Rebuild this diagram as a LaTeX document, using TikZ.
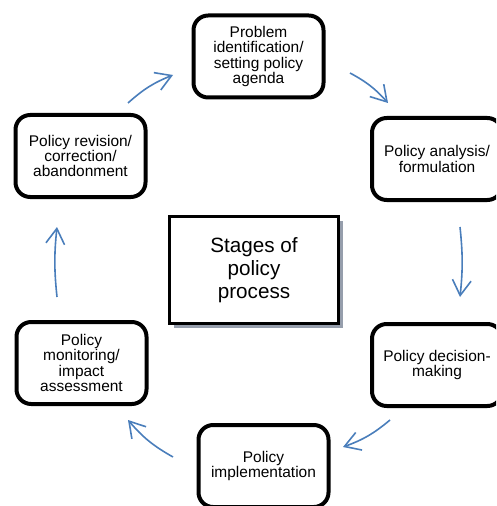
\documentclass[tikz,border=0pt]{standalone}
\usepackage{fontspec}
\setmainfont{Liberation Sans}
\usetikzlibrary{arrows.meta, shadows}

\definecolor{arrowblue}{RGB}{74,126,187}
\definecolor{shadowgray}{RGB}{150,158,172}

\begin{document}
\begin{tikzpicture}[
    x=0.75pt, y=-0.75pt,
    stage/.style={rectangle, draw, line width=3pt, rounded corners=11pt, minimum width=97.5pt, minimum height=61.5pt, align=center, inner sep=2pt, font=\fontsize{11.6}{11.6}\selectfont},
    title/.style={rectangle, draw, line width=2.5pt, fill=white, minimum width=126.75pt, minimum height=80.25pt, align=center, font=\fontsize{15.5}{17.5}\selectfont, drop shadow={shadow xshift=3pt, shadow yshift=-3pt, fill=shadowgray, opacity=1}},
    arrow/.style={-{Straight Barb[length=11.5pt, width=14pt]}, arrowblue, line width=1.2pt}
]
\useasboundingbox (0,0) rectangle (496,506);
\clip (0,0) rectangle (496,506);

% Stages
\node[stage] (problem) at (258.5,56.5) {Problem\\identification/\\setting policy\\agenda};
\node[stage] (analysis) at (437,159) {Policy analysis/\\formulation};
\node[stage] (decision) at (437,365) {Policy decision-\\making};
\node[stage] (implementation) at (263.5,466) {Policy\\implementation};
\node[stage] (monitoring) at (81.5,363) {Policy\\monitoring/\\impact\\assessment};
\node[stage] (revision) at (80.5,156) {Policy revision/\\correction/\\abandonment};

% Centre
\node[title] (stages) at (254,270) {Stages of\\policy\\process};

% Cycle arrows
\draw[arrow] ([shift={(47.5,-10)}]revision.north) to[bend left=10] ([shift={(-18.5,18.5)}]problem.west);
\draw[arrow] ([shift={(24.5,16.5)}]problem.east) to[bend left=10] ([shift={(-49,-13)}]analysis.north);
\draw[arrow] ([shift={(23,25)}]analysis.south) to[bend left=6] ([shift={(23,-25)}]decision.north);
\draw[arrow] ([shift={(-47,12)}]decision.south) to[bend left=10] ([shift={(12.5,-19)}]implementation.east);
\draw[arrow] ([shift={(-23.5,-9)}]implementation.west) to[bend left=10] ([shift={(46.5,14)}]monitoring.south);
\draw[arrow] ([shift={(-24.5,-23)}]monitoring.north) to[bend left=6] ([shift={(-23.5,28)}]revision.south);

\end{tikzpicture}
\end{document}
